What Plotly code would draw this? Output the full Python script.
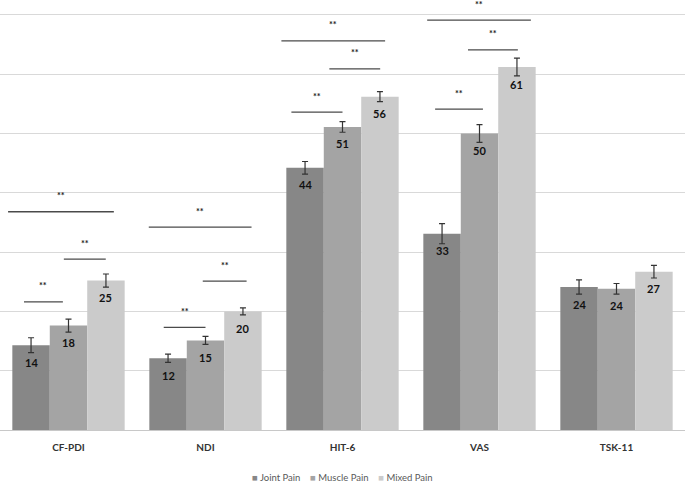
import plotly.graph_objects as go

CATEGORIES = ["CF-PDI", "NDI", "HIT-6", "VAS", "TSK-11"]
SERIES = ["Joint Pain", "Muscle Pain", "Mixed Pain"]

JOINT = [14.3, 12.1, 44.2, 33.1, 24.1]
MUSCLE = [17.6, 15.1, 51.1, 50.0, 23.8]
MIXED = [25.2, 20.0, 56.2, 61.2, 26.7]

JOINT_ERR = [1.25, 0.7, 1.07, 1.7, 1.2]
MUSCLE_ERR = [1.1, 0.68, 0.9, 1.5, 0.9]
MIXED_ERR = [1.1, 0.6, 0.85, 1.5, 1.07]

LABELS = [
    [14, 12, 44, 33, 24],
    [18, 15, 51, 50, 24],
    [25, 20, 56, 61, 27],
]

# significance lines: (category index, x0 offset, x1 offset, line level)
SIG = [
    (0, -0.325, -0.041, 21.6), (0, -0.034, 0.272, 28.8), (0, -0.441, 0.331, 36.8),
    (1, -0.305, 0.0, 17.3), (1, -0.02, 0.30, 25.1), (1, -0.414, 0.336, 34.2),
    (2, -0.373, 0.0, 53.6), (2, -0.096, 0.275, 60.9), (2, -0.446, 0.311, 65.6),
    (3, -0.324, 0.025, 54.1), (3, -0.084, 0.28, 64.1), (3, -0.382, 0.375, 69.1),
]

COLORS = ["#878787", "#a4a4a4", "#cbcbcb"]
FONT = "Lato, 'Open Sans', sans-serif"
BARGAP = 0.18
BAR_W = (1 - BARGAP) / 3

fig = go.Figure()
for j, (name, vals, err, col) in enumerate(zip(SERIES, [JOINT, MUSCLE, MIXED],
                                               [JOINT_ERR, MUSCLE_ERR, MIXED_ERR], COLORS)):
    fig.add_trace(go.Bar(
        name=name, x=CATEGORIES, y=vals,
        marker=dict(color=col, line=dict(width=0)),
        error_y=dict(type="data", array=err, color="#333333", thickness=1.2, width=3),
        showlegend=False,
    ))
    # value labels just under the error bars
    for i, (v, lab) in enumerate(zip(vals, LABELS[j])):
        fig.add_annotation(x=i + (j - 1) * BAR_W, y=v, yshift=-17, text=f"<b>{lab}</b>",
                           showarrow=False,
                           font=dict(family=FONT, size=11, color="#111111"))

for ci, x0, x1, yv in SIG:
    fig.add_shape(type="line", xref="x", yref="y", x0=ci + x0, x1=ci + x1, y0=yv, y1=yv,
                  line=dict(color="#4a4a4a", width=1.3))
    fig.add_annotation(x=ci + (x0 + x1) / 2, y=yv, yshift=16, text="<b>**</b>",
                       showarrow=False, font=dict(family=FONT, size=9, color="#222222"))

# compact Excel-style legend
legend_text = "&nbsp;&nbsp;&nbsp;&nbsp;".join(
    f"<span style='color:{c}'>■</span> {n}" for n, c in zip(SERIES, COLORS))
fig.add_annotation(xref="paper", yref="paper", x=0.5, y=-0.1116, xanchor="center",
                   yanchor="middle", text=legend_text, showarrow=False,
                   font=dict(family=FONT, size=9.5, color="#595959"))

fig.update_layout(
    width=685, height=484,
    margin=dict(l=0, r=0, t=0, b=54, autoexpand=False),
    paper_bgcolor="white", plot_bgcolor="white",
    barmode="group", bargap=BARGAP, bargroupgap=0,
    font=dict(family=FONT, color="#404040"),
    showlegend=False,
    xaxis=dict(showline=True, linecolor="#c8c8c8", linewidth=1.2, automargin=False,
               range=[-0.5, 4.5],
               tickfont=dict(size=10, color="#333333", weight="bold"),
               ticks="", ticklabelstandoff=8),
    yaxis=dict(range=[0, 72.5], dtick=10, showgrid=True, gridcolor="#d9d9d9",
               gridwidth=1.2, showticklabels=False, zeroline=False, ticks="",
               automargin=False),
)

fig.write_html("out.html", config={"displayModeBar": False},
               post_script="document.body.style.margin='0';")
